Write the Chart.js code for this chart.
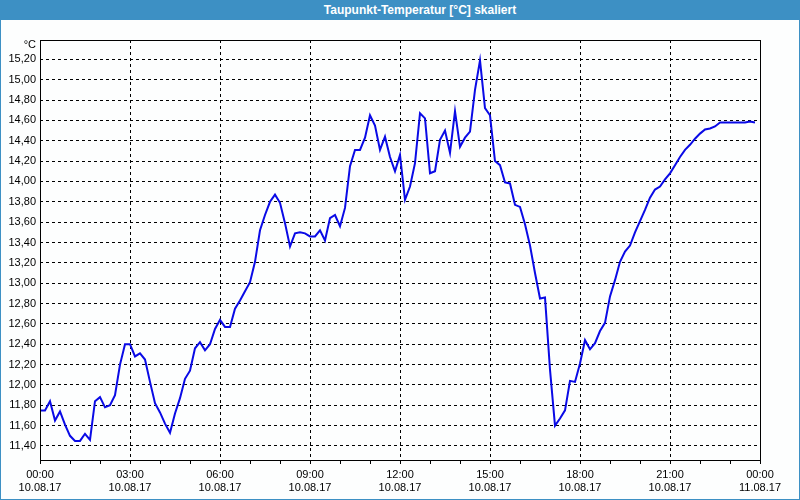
<!DOCTYPE html>
<html>
<head>
<meta charset="utf-8">
<script src="https://cdn.jsdelivr.net/npm/chart.js@4/dist/chart.umd.min.js"></script>
<style>
    html, body { margin: 0; padding: 0; background: #fdfefe; }
    #wrap { position: relative; width: 800px; height: 500px; overflow: hidden; }
    #titel {
        position: absolute; left: 0; top: 0; width: 800px; height: 20px;
        background: #3d90c4; color: #fff; font: bold 12px "Liberation Sans", sans-serif;
        line-height: 20px; text-align: center; text-indent: 40px;
    }
    #rahmen {
        position: absolute; left: 0; top: 0; width: 800px; height: 500px;
        box-sizing: border-box; border: 1px solid #3d90c4; pointer-events: none;
    }
    canvas { position: absolute; left: 0; top: 0; }
</style>
</head>
<body>
<div id="wrap">
    <canvas id="chart" width="800" height="500"></canvas>
    <div id="titel">Taupunkt-Temperatur [°C] skaliert</div>
    <div id="rahmen"></div>
</div>
<script>
// Messwerte alle 10 Minuten ab 10.08.17 00:00
const taupunkt = [
    11.75, 11.75, 11.84, 11.65, 11.74, 11.61, 11.50, 11.45, 11.45, 11.52,
    11.46, 11.84, 11.88, 11.78, 11.80, 11.90, 12.20, 12.40, 12.40, 12.28,
    12.31, 12.25, 12.03, 11.82, 11.73, 11.62, 11.53, 11.72, 11.87, 12.06,
    12.14, 12.36, 12.42, 12.34, 12.40, 12.55, 12.64, 12.57, 12.57, 12.75,
    12.83, 12.92, 13.01, 13.21, 13.52, 13.67, 13.80, 13.87, 13.79, 13.59,
    13.36, 13.49, 13.50, 13.49, 13.46, 13.46, 13.52, 13.42, 13.64, 13.67,
    13.56, 13.74, 14.15, 14.31, 14.31, 14.43, 14.65, 14.55, 14.31, 14.44,
    14.24, 14.10, 14.26, 13.82, 13.95, 14.18, 14.67, 14.62, 14.08, 14.10,
    14.41, 14.50, 14.28, 14.69, 14.34, 14.43, 14.49, 14.90, 15.19, 14.72,
    14.65, 14.20, 14.16, 13.99, 13.98, 13.77, 13.75, 13.58, 13.37, 13.10,
    12.85, 12.86, 12.15, 11.60, 11.67, 11.75, 12.04, 12.03, 12.21, 12.44,
    12.35, 12.41, 12.53, 12.61, 12.87, 13.03, 13.21, 13.31, 13.37, 13.50,
    13.61, 13.72, 13.84, 13.92, 13.95, 14.02, 14.08, 14.16, 14.24, 14.31,
    14.36, 14.42, 14.47, 14.51, 14.52, 14.54, 14.58, 14.58, 14.58, 14.58,
    14.58, 14.58, 14.59, 14.58
];

// Achsenbeschriftung
const yTicks = [11.4, 11.6, 11.8, 12.0, 12.2, 12.4, 12.6, 12.8, 13.0, 13.2,
    13.4, 13.6, 13.8, 14.0, 14.2, 14.4, 14.6, 14.8, 15.0, 15.2];
const xZeiten = ['00:00', '03:00', '06:00', '09:00', '12:00', '15:00', '18:00', '21:00', '00:00'];
const xDaten = ['10.08.17', '10.08.17', '10.08.17', '10.08.17', '10.08.17', '10.08.17', '10.08.17', '10.08.17', '11.08.17'];

const punkte = taupunkt.map((v, i) => ({ x: i / 6, y: v }));
const schrift = { family: '"Liberation Sans", sans-serif', size: 11 };

// Rahmen um die Zeichenfläche und Einheit
const rahmenPlugin = {
    id: 'rahmen',
    afterDraw(chart) {
        const { ctx, chartArea: a } = chart;
        ctx.save();
        ctx.strokeStyle = '#000';
        ctx.lineWidth = 1;
        ctx.strokeRect(a.left + 0.5, a.top + 0.5, a.right - a.left, a.bottom - a.top);
        ctx.fillStyle = '#000';
        ctx.font = '11px "Liberation Sans", sans-serif';
        ctx.textAlign = 'right';
        ctx.textBaseline = 'middle';
        ctx.fillText('°C', 36, 45);
        ctx.restore();
    }
};

new Chart(document.getElementById('chart').getContext('2d'), {
    type: 'line',
    data: {
        datasets: [{
            data: punkte,
            borderColor: '#0a0ae6',
            borderWidth: 2,
            pointRadius: 0,
            tension: 0,
            fill: false
        }]
    },
    options: {
        responsive: false,
        animation: false,
        devicePixelRatio: 1,
        layout: { padding: { top: 40, right: 40, left: 0, bottom: 0 } },
        plugins: { legend: { display: false }, tooltip: { enabled: false }, title: { display: false } },
        scales: {
            x: {
                type: 'linear',
                min: 0,
                max: 24,
                afterFit: s => { s.height = 40; },
                afterBuildTicks: s => {
                    s.ticks = [];
                    for (let h = 0; h <= 24; h++) s.ticks.push({ value: h });
                },
                border: { display: false, dash: [3, 3] },
                grid: {
                    color: c => (c.tick && c.tick.value % 3 === 0) ? '#000' : 'rgba(0,0,0,0)',
                    tickColor: '#000',
                    tickLength: 4,
                    lineWidth: 1
                },
                ticks: {
                    autoSkip: false,
                    maxRotation: 0,
                    padding: 4,
                    color: '#000',
                    font: schrift,
                    callback: v => v % 3 === 0 ? [xZeiten[v / 3], xDaten[v / 3]] : ''
                }
            },
            y: {
                min: 11.2624,
                max: 15.39,
                afterFit: s => { s.width = 40; },
                afterBuildTicks: s => { s.ticks = yTicks.map(v => ({ value: v })); },
                border: { display: false, dash: [3, 3] },
                grid: { color: '#000', lineWidth: 1, drawTicks: false },
                ticks: {
                    padding: 4,
                    color: '#000',
                    font: schrift,
                    callback: v => v.toFixed(2).replace('.', ',')
                }
            }
        }
    },
    plugins: [rahmenPlugin]
});
</script>
</body>
</html>
